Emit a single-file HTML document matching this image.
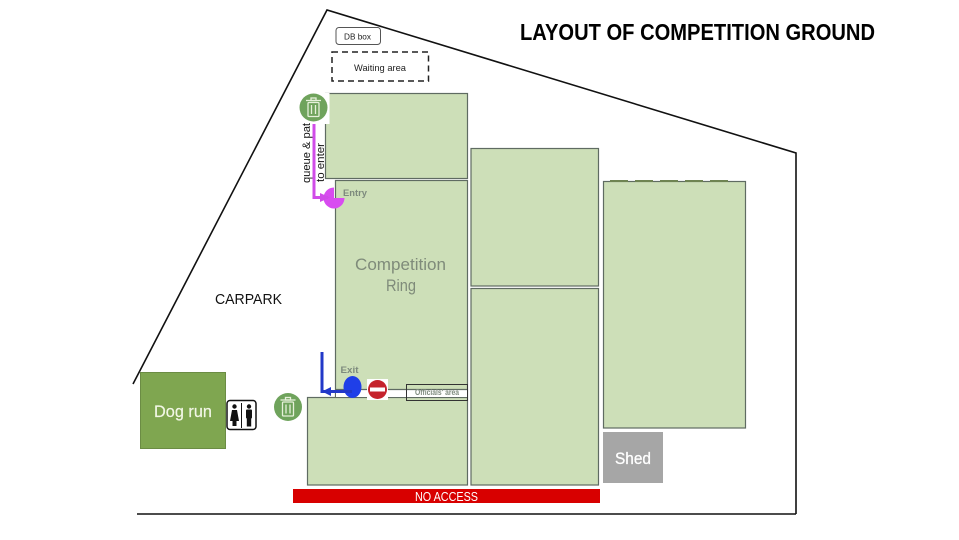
<!DOCTYPE html>
<html>
<head>
<meta charset="utf-8">
<style>
html,body{margin:0;padding:0;background:#fff;width:959px;height:540px;overflow:hidden}
svg{display:block}
text{font-family:"Liberation Sans",sans-serif}
</style>
</head>
<body>
<svg width="959" height="540" viewBox="0 0 959 540" xmlns="http://www.w3.org/2000/svg">
<rect width="959" height="540" fill="#fff"/>
<!-- boundary -->
<polyline points="133,384 327,10 796,153 796,514" fill="none" stroke="#111" stroke-width="1.6"/>
<line x1="137" y1="514" x2="796" y2="514" stroke="#111" stroke-width="1.6"/>
<!-- title -->
<text x="520" y="40" font-size="23" font-weight="700" fill="#000" textLength="355" lengthAdjust="spacingAndGlyphs">LAYOUT OF COMPETITION GROUND</text>
<!-- db box & waiting -->
<rect x="336" y="27.500" width="44.500" height="17" rx="3" fill="#fff" stroke="#555" stroke-width="1"/>
<text x="344" y="39.500" font-size="8.500" fill="#222" textLength="27" lengthAdjust="spacingAndGlyphs">DB box</text>
<rect x="332" y="52" width="96.500" height="29" fill="#fff" stroke="#222" stroke-width="1.500" stroke-dasharray="6 4"/>
<text x="354" y="71" font-size="9.500" fill="#222" textLength="52" lengthAdjust="spacingAndGlyphs">Waiting area</text>
<!-- green areas -->
<g fill="#cddfb8" stroke="#5f6b62" stroke-width="1.200">
<rect x="325.500" y="93.500" width="142" height="85"/>
<rect x="335.500" y="180.500" width="132" height="216"/>
<rect x="471" y="148.500" width="127.500" height="137.500"/>
<rect x="471" y="288.500" width="127.500" height="196.500"/>
<rect x="603.500" y="181.500" width="142" height="246.500"/>
<rect x="307.500" y="397.500" width="160" height="87.500"/>
</g>
<!-- dashes on right block -->
<g stroke="#6f8452" stroke-width="2">
<line x1="610" y1="181" x2="628" y2="181"/>
<line x1="635" y1="181" x2="653" y2="181"/>
<line x1="660" y1="181" x2="678" y2="181"/>
<line x1="685" y1="181" x2="703" y2="181"/>
<line x1="710" y1="181" x2="728" y2="181"/>
</g>
<!-- competition ring label -->
<text x="355" y="270" font-size="17" fill="#7f8b7a" textLength="91" lengthAdjust="spacingAndGlyphs">Competition</text>
<text x="386" y="291" font-size="17" fill="#7f8b7a" textLength="30" lengthAdjust="spacingAndGlyphs">Ring</text>
<text x="215" y="304" font-size="14.500" fill="#111" textLength="67" lengthAdjust="spacingAndGlyphs">CARPARK</text>
<!-- white corridor / officials -->
<rect x="336" y="389" width="131" height="8" fill="#fff"/>
<line x1="336" y1="389.500" x2="467" y2="389.500" stroke="#5f6b62" stroke-width="1.200"/>
<rect x="406.500" y="384.500" width="61" height="16" fill="none" stroke="#333" stroke-width="1"/>
<text x="415" y="395" font-size="8" font-weight="700" fill="#7d8a7d" textLength="44" lengthAdjust="spacingAndGlyphs">Officials' area</text>
<!-- no access -->
<rect x="293" y="489" width="307" height="14" fill="#d80000"/>
<text x="415" y="501" font-size="12.500" fill="#fff" textLength="63" lengthAdjust="spacingAndGlyphs">NO ACCESS</text>
<!-- shed -->
<rect x="603" y="432" width="60" height="51" fill="#a6a6a6"/>
<text x="615" y="464" font-size="17" fill="#fff" stroke="#fff" stroke-width="0.300" textLength="36" lengthAdjust="spacingAndGlyphs">Shed</text>
<!-- dog run -->
<rect x="140.500" y="372.500" width="85" height="76" fill="#7fa650" stroke="#6b8c44" stroke-width="1"/>
<text x="154" y="417" font-size="17" fill="#f2f7e6" stroke="#f2f7e6" stroke-width="0.200" textLength="58" lengthAdjust="spacingAndGlyphs">Dog run</text>
<!-- toilets -->
<rect x="227" y="400.500" width="29" height="29" rx="3" fill="#fff" stroke="#111" stroke-width="1.500"/>
<line x1="241.500" y1="403" x2="241.500" y2="428" stroke="#111" stroke-width="1"/>
<circle cx="234.500" cy="406.500" r="2.200" fill="#111"/>
<polygon points="232,410 237,410 239,421 236.500,421 236.500,426 232.500,426 232.500,421 230,421" fill="#111"/>
<circle cx="249" cy="406.500" r="2.200" fill="#111"/>
<rect x="246" y="409.500" width="6" height="9" rx="1" fill="#111"/>
<rect x="246.800" y="418" width="4.400" height="8.500" fill="#111"/>
<!-- trash top white backing -->
<rect x="299" y="93" width="30.500" height="31" fill="#fff"/>
<!-- trash icons -->
<g>
<circle cx="313.500" cy="107.500" r="14" fill="#6fa35c"/>
<g fill="none" stroke="#e6f0da" stroke-width="1.300">
<rect x="308" y="102.500" width="11" height="14" rx="1"/>
<line x1="306" y1="100.500" x2="321" y2="100.500"/>
<rect x="311" y="98" width="5" height="2.500"/>
<line x1="311.500" y1="105" x2="311.500" y2="114"/>
<line x1="315.500" y1="105" x2="315.500" y2="114"/>
</g>
</g>
<g>
<circle cx="288" cy="407" r="14" fill="#6fa35c"/>
<g fill="none" stroke="#e6f0da" stroke-width="1.300">
<rect x="282.500" y="402" width="11" height="14" rx="1"/>
<line x1="280.500" y1="400" x2="295.500" y2="400"/>
<rect x="285.500" y="397.500" width="5" height="2.500"/>
<line x1="286" y1="404.500" x2="286" y2="413.500"/>
<line x1="290" y1="404.500" x2="290" y2="413.500"/>
</g>
</g>
<!-- entry -->
<path d="M334,198 L344.500,198 A10.500,10.500 0 1 1 334,187.500 Z" fill="#d84cf0"/>
<polyline points="314,124 314,197.500 328,197.500" fill="none" stroke="#d04ce8" stroke-width="3"/>
<polygon points="320,193 330,197.500 320,202" fill="#d04ce8"/>
<text x="343" y="196" font-size="9.500" font-weight="700" fill="#7d8a7d" textLength="24" lengthAdjust="spacingAndGlyphs">Entry</text>
<!-- vertical labels -->
<text transform="translate(310,183) rotate(-90)" font-size="11" fill="#111" textLength="60" lengthAdjust="spacingAndGlyphs">queue &amp; pat</text>
<text transform="translate(324,182) rotate(-90)" font-size="11" fill="#111" textLength="39" lengthAdjust="spacingAndGlyphs">to enter</text>
<!-- exit -->
<ellipse cx="352.500" cy="387" rx="9" ry="11" fill="#1f3fe8"/>
<polyline points="322,352 322,391.500 352,391.500" fill="none" stroke="#2238c8" stroke-width="3"/>
<polygon points="331,387 322,391.500 331,396" fill="#2238c8"/>
<text x="340.500" y="373" font-size="9.500" font-weight="700" fill="#7d8a7d" textLength="18" lengthAdjust="spacingAndGlyphs">Exit</text>
<!-- no entry -->
<rect x="367" y="379" width="21" height="21" fill="#fff"/>
<circle cx="377.500" cy="389.500" r="9.500" fill="#c5232c"/>
<rect x="370" y="387.500" width="15" height="4" fill="#fff"/>
</svg>
</body>
</html>
